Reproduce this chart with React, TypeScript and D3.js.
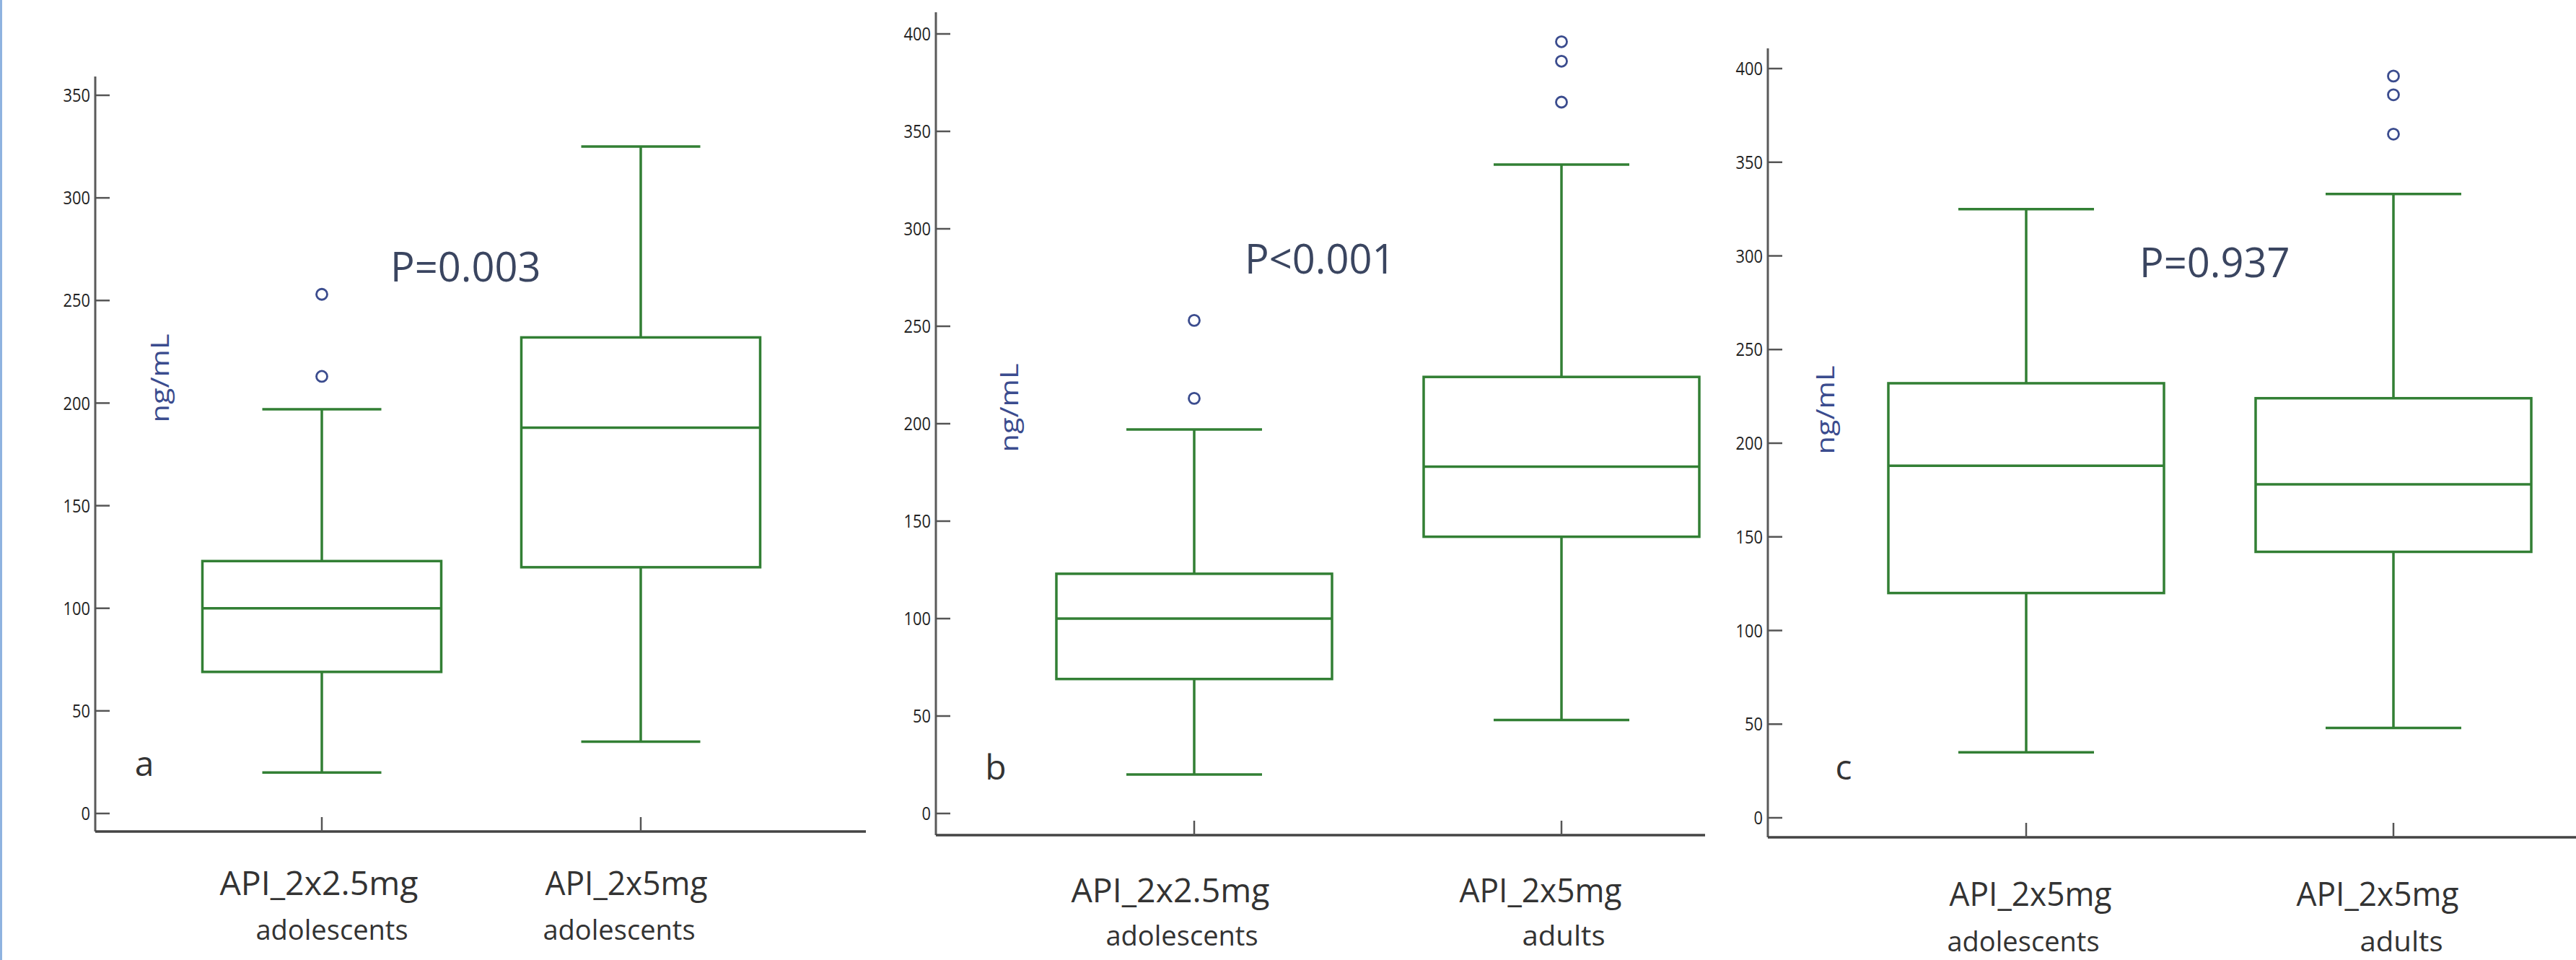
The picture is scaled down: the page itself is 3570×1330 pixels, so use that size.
import * as d3 from 'd3'

const WIDTH = 3570
const HEIGHT = 1330

// summary statistics (ng/mL)
const groupNames = ['API_2x2.5mg', 'API_2x5mg', 'API_2x5mg']
const groupSubs = ['adolescents', 'adolescents', 'adults']
const mins = [20, 35, 48]
const q1s = [69, 120, 142]
const medians = [100, 188, 178]
const q3s = [123, 232, 224]
const maxs = [197, 325, 333]
const outliers = [[213, 253], [], [365, 386, 396]]

// which groups each panel compares
const panelPairs = [[0, 1], [0, 2], [1, 2]]
const panelLetters = ['a', 'b', 'c']
const pValues = ['P=0.003', 'P<0.001', 'P=0.937']
const yMaxes = [350, 400, 400]
const yStep = 50
const unitLabel = 'ng/mL'

const GREEN = '#327f34'
const NAVY = '#3b4c8e'
const FONT = "'Open Sans', 'Noto Sans', sans-serif"

// page layout of the three panels
const panels = [
  { left: 132, right: 1200, top: 106, axisY: 1152, zeroY: 1127, topY: 132, centers: [446, 888], boxW: 331, capW: 165,
    pX: 541, pY: 390, unitX: 222, unitY: 524, letterX: 200, letterY: 1075, lab1Y: 1240, lab2Y: 1302, lab1X: [442, 868], lab2X: [460, 858] },
  { left: 1297, right: 2363, top: 17, axisY: 1157, zeroY: 1127, topY: 47, centers: [1655, 2164], boxW: 382, capW: 188,
    pX: 1725, pY: 379, unitX: 1399, unitY: 565, letterX: 1380, letterY: 1080, lab1Y: 1250, lab2Y: 1310, lab1X: [1622, 2135], lab2X: [1638, 2167] },
  { left: 2450, right: 3570, top: 67, axisY: 1160, zeroY: 1133, topY: 95, centers: [2808, 3317], boxW: 382, capW: 188,
    pX: 2965, pY: 384, unitX: 2530, unitY: 568, letterX: 2555, letterY: 1080, lab1Y: 1255, lab2Y: 1318, lab1X: [2814, 3295], lab2X: [2804, 3328] },
]

const Panel = ({ idx }: { idx: number }) => {
  const p = panels[idx]
  const pair = panelPairs[idx]
  const y = d3.scaleLinear().domain([0, yMaxes[idx]]).range([p.zeroY, p.topY])
  const x = d3.scalePoint<string>().domain(['0', '1']).range(p.centers as [number, number])
  const ticks = d3.range(0, yMaxes[idx] + 1, yStep)

  return (
    <g>
      {/* y axis */}
      <line x1={p.left} x2={p.left} y1={p.top} y2={p.axisY} stroke="#5a5a5a" strokeWidth={3} />
      {ticks.map(t => (
        <g key={t}>
          <line x1={p.left} x2={p.left + 20} y1={y(t)} y2={y(t)} stroke="#555" strokeWidth={2.5} />
          <text x={p.left - 7} y={y(t)} dy="0.35em" textAnchor="end" fontFamily={FONT} fontSize={26}
            fill="#222" textLength={String(t).length * 12.5} lengthAdjust="spacingAndGlyphs">{t}</text>
        </g>
      ))}
      {/* x axis */}
      <line x1={p.left} x2={p.right} y1={p.axisY} y2={p.axisY} stroke="#444" strokeWidth={3.5} />

      {pair.map((gi, k) => {
        const cx = x(String(k)) as number
        return (
          <g key={k}>
            <line x1={cx} x2={cx} y1={p.axisY} y2={p.axisY - 20} stroke="#555" strokeWidth={2.5} />
            <line x1={cx} x2={cx} y1={y(maxs[gi])} y2={y(q3s[gi])} stroke={GREEN} strokeWidth={3.5} />
            <line x1={cx} x2={cx} y1={y(q1s[gi])} y2={y(mins[gi])} stroke={GREEN} strokeWidth={3.5} />
            <line x1={cx - p.capW / 2} x2={cx + p.capW / 2} y1={y(maxs[gi])} y2={y(maxs[gi])} stroke={GREEN} strokeWidth={3.5} />
            <line x1={cx - p.capW / 2} x2={cx + p.capW / 2} y1={y(mins[gi])} y2={y(mins[gi])} stroke={GREEN} strokeWidth={3.5} />
            <rect x={cx - p.boxW / 2} y={y(q3s[gi])} width={p.boxW} height={y(q1s[gi]) - y(q3s[gi])}
              fill="none" stroke={GREEN} strokeWidth={3.5} />
            <line x1={cx - p.boxW / 2} x2={cx + p.boxW / 2} y1={y(medians[gi])} y2={y(medians[gi])} stroke={GREEN} strokeWidth={3.5} />
            {outliers[gi].map((o, j) => (
              <circle key={j} cx={cx} cy={y(o)} r={7.5} fill="none" stroke={NAVY} strokeWidth={2.8} />
            ))}
            <text x={p.lab1X[k]} y={p.lab1Y} textAnchor="middle" fontFamily={FONT} fontSize={46} fill="#333"
              textLength={groupNames[gi].length * 25} lengthAdjust="spacingAndGlyphs">{groupNames[gi]}</text>
            <text x={p.lab2X[k]} y={p.lab2Y} textAnchor="middle" fontFamily={FONT} fontSize={38} fill="#333"
              textLength={groupSubs[gi].length * 19.2} lengthAdjust="spacingAndGlyphs">{groupSubs[gi]}</text>
          </g>
        )
      })}

      <text x={p.pX} y={p.pY} fontFamily={FONT} fontSize={56} fill="#3a4560">{pValues[idx]}</text>
      <text transform={`translate(${p.unitX},${p.unitY}) rotate(-90)`} textAnchor="middle" dy="0.35em"
        fontFamily={FONT} fontSize={34} fill={NAVY} textLength={123} lengthAdjust="spacingAndGlyphs">{unitLabel}</text>
      <text x={p.letterX} y={p.letterY} textAnchor="middle" fontFamily={FONT} fontSize={48} fill="#333">{panelLetters[idx]}</text>
    </g>
  )
}

export default function App() {
  return (
    <svg width={WIDTH} height={HEIGHT} style={{ position: 'absolute', left: 0, top: 0, background: '#fff' }}>
      <rect width={WIDTH} height={HEIGHT} fill="#fff" />
      <line x1={1.5} x2={1.5} y1={0} y2={HEIGHT} stroke="#8fb3e0" strokeWidth={3} />
      {panels.map((_, i) => <Panel key={i} idx={i} />)}
    </svg>
  )
}
